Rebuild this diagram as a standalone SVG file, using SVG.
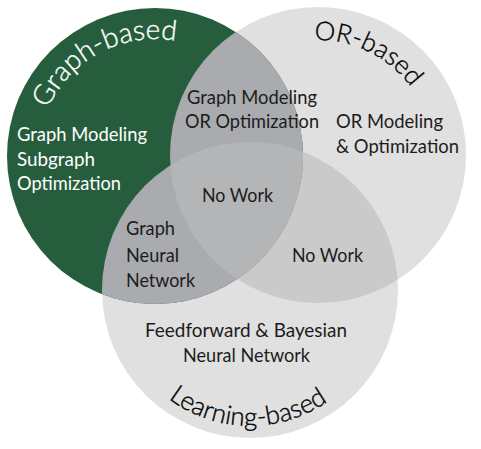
<svg xmlns="http://www.w3.org/2000/svg" width="481" height="449" viewBox="0 0 481 449">
  <style>
    .t { font-family: Lato, "Open Sans", "DejaVu Sans", sans-serif; font-size: 20px; font-weight: 400; fill: #1c1c1c; }
    .c { fill: #000000; font-size: 26px; font-weight: 300; stroke: #000000; stroke-width: 0.35px; }
    .w { fill: #ffffff; }
    .cw { fill: #ffffff; stroke: #ffffff; }
    .big { font-size: 28px; }
    .gray { fill: #e0e0e0; }
    .g2 { fill: #cacaca; }
    .gg { fill: #a9abae; }
    .g3 { fill: #b4b5b7; }
    .green { fill: #265e3d; }
  </style>
  <defs>
    <circle id="cirG" cx="155" cy="156" r="148"/>
    <circle id="cirO" cx="318" cy="155" r="148"/>
    <circle id="cirL" cx="250" cy="290" r="148"/>
    <clipPath id="clipG"><use href="#cirG"/></clipPath>
    <clipPath id="clipL"><use href="#cirL"/></clipPath>
    <path id="arcG" d="M38.07,151.92 A117,117 0 0 1 217.0,56.8"/>
    <path id="arcO" d="M253.7,59.7 A115,115 0 0 1 432.7,147.0"/>
    <path id="arcL" d="M131.1,355.9 A136,136 0 0 0 366.6,360.0"/>
  </defs>

  <g id="or-based">
    <use href="#cirO" class="gray"/>
  </g>
  <g id="learning-based">
    <use href="#cirL" class="gray"/>
  </g>
  <g id="or-learning-overlap" clip-path="url(#clipL)">
    <use href="#cirO" class="g2"/>
  </g>
  <g id="graph-based">
    <use href="#cirG" class="green"/>
  </g>
  <g id="graph-overlaps" clip-path="url(#clipG)">
    <use href="#cirO" class="gg"/>
    <use href="#cirL" class="gg"/>
  </g>
  <g id="triple-overlap" clip-path="url(#clipG)">
    <g clip-path="url(#clipL)">
      <use href="#cirO" class="g3"/>
    </g>
  </g>

  <g id="labels-graph">
    <text class="t c cw big"><textPath href="#arcG" startOffset="50%" text-anchor="middle">Graph-based</textPath></text>
    <text class="t w" x="17" y="141" textLength="130" lengthAdjust="spacingAndGlyphs">Graph Modeling</text>
    <text class="t w" x="17" y="166" textLength="78" lengthAdjust="spacingAndGlyphs">Subgraph</text>
    <text class="t w" x="17" y="190" textLength="104" lengthAdjust="spacingAndGlyphs">Optimization</text>
  </g>
  <g id="labels-or">
    <text class="t c"><textPath href="#arcO" startOffset="50%" text-anchor="middle">OR-based</textPath></text>
    <text class="t" x="336" y="128" textLength="107" lengthAdjust="spacingAndGlyphs">OR Modeling</text>
    <text class="t" x="336" y="153" textLength="123" lengthAdjust="spacingAndGlyphs">&amp; Optimization</text>
  </g>
  <g id="labels-learning">
    <text class="t c"><textPath href="#arcL" startOffset="50%" text-anchor="middle">Learning-based</textPath></text>
    <text class="t" x="145" y="337" textLength="202" lengthAdjust="spacingAndGlyphs">Feedforward &amp; Bayesian</text>
    <text class="t" x="183" y="362" textLength="127" lengthAdjust="spacingAndGlyphs">Neural Network</text>
  </g>
  <g id="labels-overlaps">
    <text class="t" x="187" y="104" textLength="130" lengthAdjust="spacingAndGlyphs">Graph Modeling</text>
    <text class="t" x="185" y="128" textLength="134" lengthAdjust="spacingAndGlyphs">OR Optimization</text>
    <text class="t" x="202" y="202" textLength="71" lengthAdjust="spacingAndGlyphs">No Work</text>
    <text class="t" x="126" y="235" textLength="49" lengthAdjust="spacingAndGlyphs">Graph</text>
    <text class="t" x="126" y="262" textLength="53" lengthAdjust="spacingAndGlyphs">Neural</text>
    <text class="t" x="126" y="287" textLength="69" lengthAdjust="spacingAndGlyphs">Network</text>
    <text class="t" x="292" y="262" textLength="71" lengthAdjust="spacingAndGlyphs">No Work</text>
  </g>
</svg>
